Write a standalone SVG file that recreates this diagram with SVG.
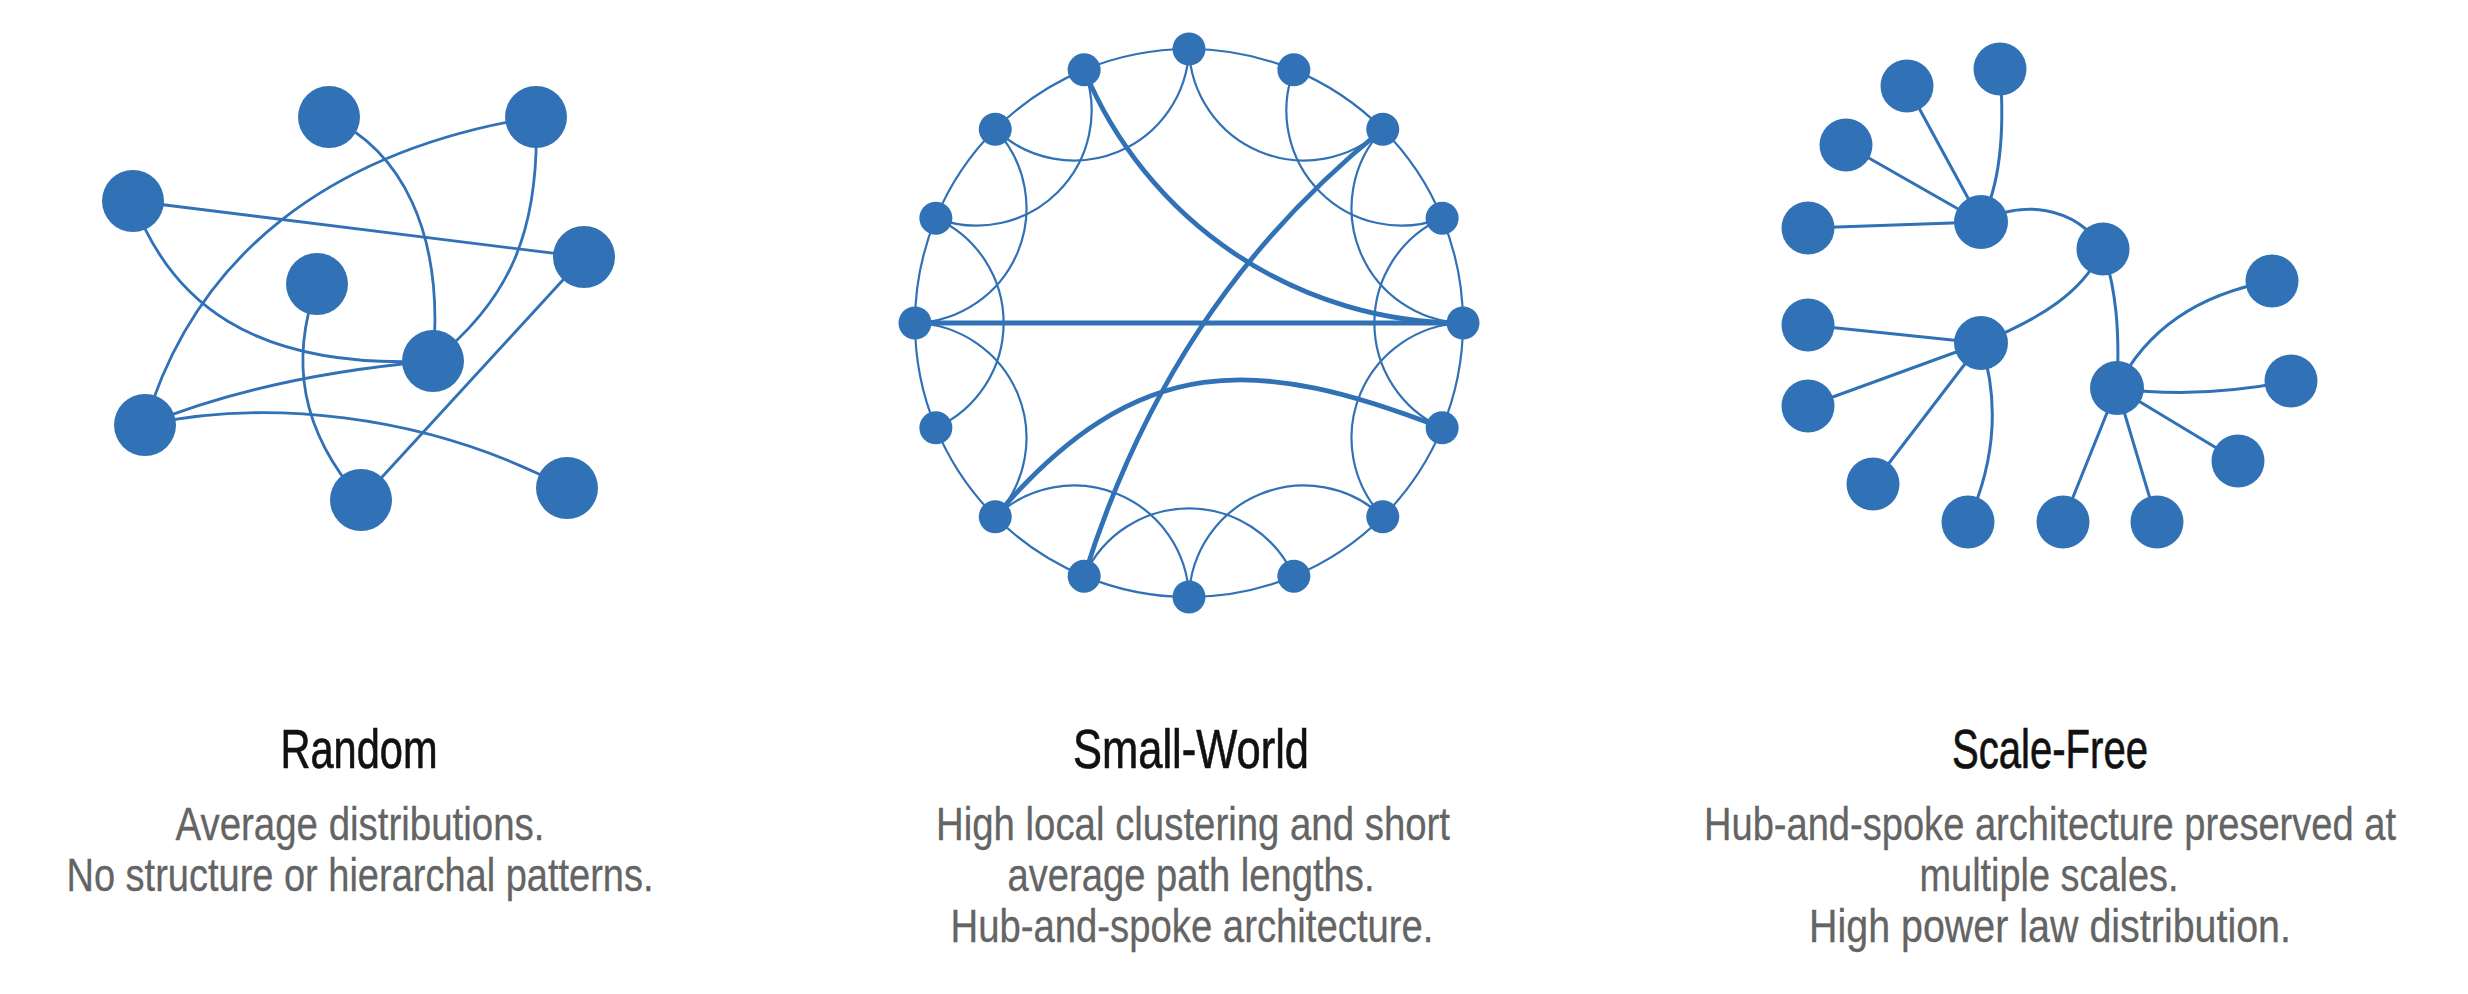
<svg xmlns="http://www.w3.org/2000/svg" width="2468" height="994" viewBox="0 0 2468 994">
  <style>
    .node { fill: #3171b6; }
    .edge { fill: none; stroke: #3171b6; stroke-linecap: round; }
    .rnd { stroke-width: 2.8; }
    .thin { stroke-width: 2.2; }
    .thick { stroke-width: 4.8; }
    .sf { stroke-width: 3; }
    .title { font-family: "Liberation Sans Narrow", "Liberation Sans", Arial, sans-serif; font-size: 56px; fill: #111111; stroke: #111111; stroke-width: 0.7; text-anchor: middle; }
    .sub { font-family: "Liberation Sans Narrow", "Liberation Sans", Arial, sans-serif; font-size: 46px; fill: #646464; stroke: #646464; stroke-width: 0.3; text-anchor: middle; }
  </style>
  <rect width="2468" height="994" fill="#ffffff"/>

  <!-- ===== Random network ===== -->
  <g id="random-edges">
    <path class="edge rnd" d="M329,117 C400,150 445,230 433,361"/>
    <path class="edge rnd" d="M536,117 C330,150 195,255 145,425"/>
    <path class="edge rnd" d="M133,201 L584,257"/>
    <path class="edge rnd" d="M133,201 C170,300 250,370 433,361"/>
    <path class="edge rnd" d="M536,117 C540,230 510,300 433,361"/>
    <path class="edge rnd" d="M145,425 C230,390 330,370 433,361"/>
    <path class="edge rnd" d="M145,425 C260,400 420,410 567,488"/>
    <path class="edge rnd" d="M317,284 C290,360 300,430 361,500"/>
    <path class="edge rnd" d="M584,257 L361,500"/>
  </g>
  <g id="r-a"><circle class="node" cx="329" cy="117" r="31"/></g>
  <g id="r-b"><circle class="node" cx="536" cy="117" r="31"/></g>
  <g id="r-c"><circle class="node" cx="133" cy="201" r="31"/></g>
  <g id="r-d"><circle class="node" cx="584" cy="257" r="31"/></g>
  <g id="r-e"><circle class="node" cx="317" cy="284" r="31"/></g>
  <g id="r-f"><circle class="node" cx="433" cy="361" r="31"/></g>
  <g id="r-g"><circle class="node" cx="145" cy="425" r="31"/></g>
  <g id="r-h"><circle class="node" cx="361" cy="500" r="31"/></g>
  <g id="r-i"><circle class="node" cx="567" cy="488" r="31"/></g>

  <!-- ===== Small-world network (ring lattice, centre 1189,323, R 274) ===== -->
  <g id="smallworld-edges">
    <!-- ring -->
    <path class="edge thin" d="M1189,49 A274,274 0 0 1 1293.85,69.86"/>
    <path class="edge thin" d="M1293.85,69.86 A274,274 0 0 1 1382.75,129.25"/>
    <path class="edge thin" d="M1382.75,129.25 A274,274 0 0 1 1442.14,218.15"/>
    <path class="edge thin" d="M1442.14,218.15 A274,274 0 0 1 1463,323"/>
    <path class="edge thin" d="M1463,323 A274,274 0 0 1 1442.14,427.85"/>
    <path class="edge thin" d="M1442.14,427.85 A274,274 0 0 1 1382.75,516.75"/>
    <path class="edge thin" d="M1382.75,516.75 A274,274 0 0 1 1293.85,576.14"/>
    <path class="edge thin" d="M1293.85,576.14 A274,274 0 0 1 1189,597"/>
    <path class="edge thin" d="M1189,597 A274,274 0 0 1 1084.15,576.14"/>
    <path class="edge thin" d="M1084.15,576.14 A274,274 0 0 1 995.25,516.75"/>
    <path class="edge thin" d="M995.25,516.75 A274,274 0 0 1 935.86,427.85"/>
    <path class="edge thin" d="M935.86,427.85 A274,274 0 0 1 915,323"/>
    <path class="edge thin" d="M915,323 A274,274 0 0 1 935.86,218.15"/>
    <path class="edge thin" d="M935.86,218.15 A274,274 0 0 1 995.25,129.25"/>
    <path class="edge thin" d="M995.25,129.25 A274,274 0 0 1 1084.15,69.86"/>
    <path class="edge thin" d="M1084.15,69.86 A274,274 0 0 1 1189,49"/>
    <!-- second-neighbour links -->
    <path class="edge thin" d="M1189,49 A115,115 0 0 0 1382.75,129.25"/>
    <path class="edge thin" d="M1293.85,69.86 A115,115 0 0 0 1442.14,218.15"/>
    <path class="edge thin" d="M1382.75,129.25 A115,115 0 0 0 1463,323"/>
    <path class="edge thin" d="M1442.14,218.15 A115,115 0 0 0 1442.14,427.85"/>
    <path class="edge thin" d="M1463,323 A115,115 0 0 0 1382.75,516.75"/>
    <path class="edge thin" d="M1382.75,516.75 A115,115 0 0 0 1189,597"/>
    <path class="edge thin" d="M1293.85,576.14 A115,115 0 0 0 1084.15,576.14"/>
    <path class="edge thin" d="M1189,597 A115,115 0 0 0 995.25,516.75"/>
    <path class="edge thin" d="M995.25,516.75 A115,115 0 0 0 915,323"/>
    <path class="edge thin" d="M935.86,427.85 A115,115 0 0 0 935.86,218.15"/>
    <path class="edge thin" d="M915,323 A115,115 0 0 0 995.25,129.25"/>
    <path class="edge thin" d="M935.86,218.15 A115,115 0 0 0 1084.15,69.86"/>
    <path class="edge thin" d="M995.25,129.25 A115,115 0 0 0 1189,49"/>
    <!-- long-range shortcuts -->
    <path class="edge thick" d="M915,323 L1463,323"/>
    <path class="edge thick" d="M1084.15,69.86 A410,410 0 0 0 1463,323"/>
    <path class="edge thick" d="M1382.75,129.25 C1234.8,248.7 1141,395.5 1084.15,576.14"/>
    <path class="edge thick" d="M995.25,516.75 C1138,348 1259,357 1442.14,427.85"/>
  </g>
  <g id="sw-0"><circle class="node" cx="1189" cy="49" r="16.5"/></g>
  <g id="sw-1"><circle class="node" cx="1293.85" cy="69.86" r="16.5"/></g>
  <g id="sw-2"><circle class="node" cx="1382.75" cy="129.25" r="16.5"/></g>
  <g id="sw-3"><circle class="node" cx="1442.14" cy="218.15" r="16.5"/></g>
  <g id="sw-4"><circle class="node" cx="1463" cy="323" r="16.5"/></g>
  <g id="sw-5"><circle class="node" cx="1442.14" cy="427.85" r="16.5"/></g>
  <g id="sw-6"><circle class="node" cx="1382.75" cy="516.75" r="16.5"/></g>
  <g id="sw-7"><circle class="node" cx="1293.85" cy="576.14" r="16.5"/></g>
  <g id="sw-8"><circle class="node" cx="1189" cy="597" r="16.5"/></g>
  <g id="sw-9"><circle class="node" cx="1084.15" cy="576.14" r="16.5"/></g>
  <g id="sw-10"><circle class="node" cx="995.25" cy="516.75" r="16.5"/></g>
  <g id="sw-11"><circle class="node" cx="935.86" cy="427.85" r="16.5"/></g>
  <g id="sw-12"><circle class="node" cx="915" cy="323" r="16.5"/></g>
  <g id="sw-13"><circle class="node" cx="935.86" cy="218.15" r="16.5"/></g>
  <g id="sw-14"><circle class="node" cx="995.25" cy="129.25" r="16.5"/></g>
  <g id="sw-15"><circle class="node" cx="1084.15" cy="69.86" r="16.5"/></g>

  <!-- ===== Scale-free network ===== -->
  <g id="scalefree-edges">
    <path class="edge sf" d="M1981,222 L1907,86"/>
    <path class="edge sf" d="M2000,69 Q2008,170 1981,222"/>
    <path class="edge sf" d="M1981,222 L1846,145"/>
    <path class="edge sf" d="M1981,222 L1808,228"/>
    <path class="edge sf" d="M1981,222 C2020,200 2075,205 2103,249"/>
    <path class="edge sf" d="M2103,249 C2083,292 2042,318 1981,343"/>
    <path class="edge sf" d="M2103,249 C2116,290 2120,330 2117,388"/>
    <path class="edge sf" d="M1981,343 L1808,325"/>
    <path class="edge sf" d="M1981,343 L1808,406"/>
    <path class="edge sf" d="M1981,343 L1873,484"/>
    <path class="edge sf" d="M1981,343 C1999,400 1996,460 1968,522"/>
    <path class="edge sf" d="M2117,388 C2150,322 2210,292 2272,281"/>
    <path class="edge sf" d="M2117,388 C2170,396 2230,393 2291,381"/>
    <path class="edge sf" d="M2117,388 L2238,461"/>
    <path class="edge sf" d="M2117,388 L2157,522"/>
    <path class="edge sf" d="M2117,388 L2063,522"/>
  </g>
  <g id="sf-hub-upper"><circle class="node" cx="1981" cy="222" r="27"/></g>
  <g id="sf-leaf-1"><circle class="node" cx="1907" cy="86" r="26.5"/></g>
  <g id="sf-leaf-2"><circle class="node" cx="2000" cy="69" r="26.5"/></g>
  <g id="sf-leaf-3"><circle class="node" cx="1846" cy="145" r="26.5"/></g>
  <g id="sf-leaf-4"><circle class="node" cx="1808" cy="228" r="26.5"/></g>
  <g id="sf-link"><circle class="node" cx="2103" cy="249" r="26.5"/></g>
  <g id="sf-hub-lower"><circle class="node" cx="1981" cy="343" r="27"/></g>
  <g id="sf-leaf-5"><circle class="node" cx="1808" cy="325" r="26.5"/></g>
  <g id="sf-leaf-6"><circle class="node" cx="1808" cy="406" r="26.5"/></g>
  <g id="sf-leaf-7"><circle class="node" cx="1873" cy="484" r="26.5"/></g>
  <g id="sf-leaf-8"><circle class="node" cx="1968" cy="522" r="26.5"/></g>
  <g id="sf-hub-right"><circle class="node" cx="2117" cy="388" r="27"/></g>
  <g id="sf-leaf-9"><circle class="node" cx="2272" cy="281" r="26.5"/></g>
  <g id="sf-leaf-10"><circle class="node" cx="2291" cy="381" r="26.5"/></g>
  <g id="sf-leaf-11"><circle class="node" cx="2238" cy="461" r="26.5"/></g>
  <g id="sf-leaf-12"><circle class="node" cx="2157" cy="522" r="26.5"/></g>
  <g id="sf-leaf-13"><circle class="node" cx="2063" cy="522" r="26.5"/></g>

  <!-- ===== Captions ===== -->
  <g id="caption-random">
    <text class="title" x="359" y="768" textLength="157" lengthAdjust="spacingAndGlyphs">Random</text>
    <text class="sub" x="360" y="840" textLength="369" lengthAdjust="spacingAndGlyphs">Average distributions.</text>
    <text class="sub" x="360" y="891" textLength="587" lengthAdjust="spacingAndGlyphs">No structure or hierarchal patterns.</text>
  </g>
  <g id="caption-smallworld">
    <text class="title" x="1191" y="768" textLength="236" lengthAdjust="spacingAndGlyphs">Small-World</text>
    <text class="sub" x="1193" y="840" textLength="514" lengthAdjust="spacingAndGlyphs">High local clustering and short</text>
    <text class="sub" x="1191" y="891" textLength="367" lengthAdjust="spacingAndGlyphs">average path lengths.</text>
    <text class="sub" x="1192" y="942" textLength="483" lengthAdjust="spacingAndGlyphs">Hub-and-spoke architecture.</text>
  </g>
  <g id="caption-scalefree">
    <text class="title" x="2050" y="768" textLength="196" lengthAdjust="spacingAndGlyphs">Scale-Free</text>
    <text class="sub" x="2050" y="840" textLength="692" lengthAdjust="spacingAndGlyphs">Hub-and-spoke architecture preserved at</text>
    <text class="sub" x="2049" y="891" textLength="259" lengthAdjust="spacingAndGlyphs">multiple scales.</text>
    <text class="sub" x="2050" y="942" textLength="482" lengthAdjust="spacingAndGlyphs">High power law distribution.</text>
  </g>
</svg>
